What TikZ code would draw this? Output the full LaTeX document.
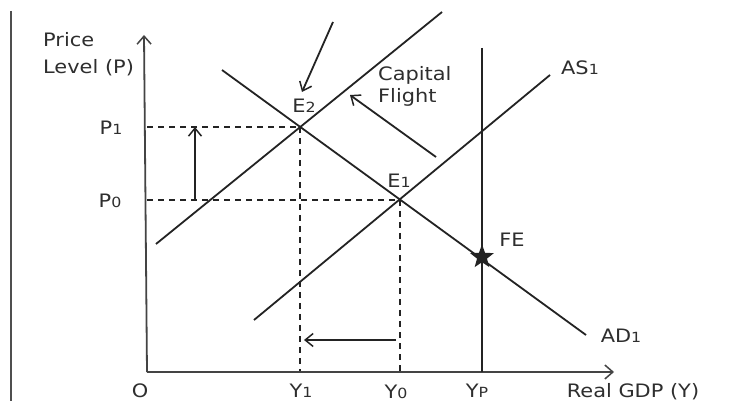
\documentclass[tikz,border=0pt]{standalone}
\usepackage{fontspec}
\setmainfont{DejaVu Sans}[FakeStretch=1.13]
\usetikzlibrary{arrows.meta,shapes.geometric}
\definecolor{ink}{HTML}{232323}
\definecolor{txt}{HTML}{2e2e2e}
\newcommand\sbd[1]{{\fontsize{14}{14}\selectfont #1}}
\tikzset{
  lbl/.style={text=txt,font=\fontsize{18.5}{22}\selectfont,inner sep=0pt,anchor=base},
  curve/.style={draw=ink,line width=1.8pt},
  axis/.style={draw=ink!85,line width=1.8pt,-{Straight Barb[length=8pt,width=14pt,line width=1.5pt]}},
  guide/.style={draw=ink,line width=1.3pt,dash pattern=on 6pt off 5pt},
  shift arrow/.style={draw=ink,line width=1.8pt,-{Straight Barb[length=8pt,width=13pt,line width=1.5pt]}},
}
\begin{document}
\begin{tikzpicture}[x=1pt,y=-1pt]
\useasboundingbox[fill=white] (0,0) rectangle (732,401);
% frame line at left
\draw[ink!80,line width=1.2pt] (11,11) -- (11,401);
% named points
\coordinate (O) at (147,372);
\coordinate (ytop) at (144,35);
\coordinate (xend) at (614,372);
\coordinate (E2) at (300,127);
\coordinate (E1) at (400,200);
\coordinate (P1) at (147,127);
\coordinate (P0) at (147,200);
\coordinate (Y1) at (300,372);
\coordinate (Y0) at (400,372);
\coordinate (ADa) at (222,70);
\coordinate (ADb) at (586,335);
\coordinate (AS2a) at (156,244);
\coordinate (AS2b) at (442,12);
\coordinate (AS1a) at (254,320);
\coordinate (AS1b) at (550,75);
\coordinate (YPt) at (482,48);
\coordinate (YPb) at (482,372);
% guides
\draw[guide] (P1) -- (E2);
\draw[guide] (P0) -- (E1);
\draw[guide] (E2) -- (Y1);
\draw[guide] (E1) -- (Y0);
% axes
\draw[axis] (O) -- (ytop);
\draw[axis] (O) -- (xend);
% curves
\draw[curve] (ADa) -- (ADb);
\draw[curve] (AS2a) -- (AS2b);
\draw[curve] (AS1a) -- (AS1b);
\draw[curve] (YPt) -- (YPb);
% star at FE
\node[star,star points=5,star point ratio=2.4,fill=ink,inner sep=0pt,minimum size=25pt] (FE) at (482,257) {};
% shift arrows
\coordinate (a1t) at (333,22);
\coordinate (a1h) at (302,92);
\draw[shift arrow] (a1t) -- (a1h);
\coordinate (a2t) at (436,157);
\coordinate (a2h) at (350,95);
\draw[shift arrow] (a2t) -- (a2h);
\coordinate (a3t) at (195,200);
\coordinate (a3h) at (195,127);
\draw[shift arrow] (a3t) -- (a3h);
\coordinate (a4t) at (396,340);
\coordinate (a4h) at (304,340);
\draw[shift arrow] (a4t) -- (a4h);
% labels
\node[lbl,anchor=base west] (plab1) at (43,47) {Price};
\node[lbl,anchor=base west] (plab2) at (43,74) {Level (P)};
\node[lbl] (lP1) at (111,135) {P\sbd{1}};
\node[lbl] (lP0) at (110,208) {P\sbd{0}};
\node[lbl] (lE2) at (304,113) {E\sbd{2}};
\node[lbl] (lE1) at (399,188) {E\sbd{1}};
\node[lbl] (lFE) at (512,247) {FE};
\node[lbl] (lAS1) at (580,75) {AS\sbd{1}};
\node[lbl] (lAD1) at (621,342) {AD\sbd{1}};
\node[lbl,anchor=base west] (lcap1) at (378,81) {Capital};
\node[lbl,anchor=base west] (lcap2) at (378,103) {Flight};
\node[lbl] (lO) at (140,397) {O};
\node[lbl] (lY1) at (301,397) {Y\sbd{1}};
\node[lbl] (lY0) at (396,398) {Y\sbd{0}};
\node[lbl] (lYP) at (477,397) {Y\sbd{P}};
\node[lbl] (lx) at (633,397) {Real GDP (Y)};
\end{tikzpicture}
\end{document}
